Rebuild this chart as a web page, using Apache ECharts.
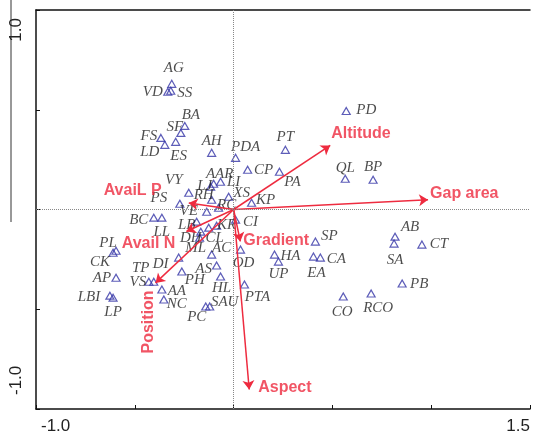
<!DOCTYPE html>
<html>
<head>
<meta charset="utf-8">
<script src="https://cdn.jsdelivr.net/npm/echarts@6/dist/echarts.min.js"></script>
<style>
  html, body { margin: 0; padding: 0; background: #fff; }
  #grafico { width: 533px; height: 437px; }
</style>
</head>
<body>
<div id="grafico"></div>
<script>
// species scores, axis 1 / axis 2
const speciesNames = ["AG", "VD", "SS", "BA", "SF", "FS", "LD", "ES", "AH", "PDA",
  "PT", "CP", "PA", "PD", "QL", "BP", "AAR", "LJ", "LI", "VY",
  "RH", "XS", "KP", "PS", "RC", "VE", "CI", "LB", "KR", "DH",
  "CL", "ML", "AC", "OD", "DI", "AS", "PH", "HL", "SAU", "PC",
  "PTA", "AA", "NC", "VS", "TP", "AP", "CK", "PL", "LBI", "LP",
  "BC", "LL", "SP", "HA", "UP", "EA", "CA", "AB", "SA", "CT",
  "PB", "CO", "RCO"];
const speciesX = [-0.313, -0.333, -0.318, -0.247, -0.267, -0.368, -0.348, -0.293, -0.111, 0.010,
  0.262, 0.071, 0.232, 0.570, 0.565, 0.706, -0.101, -0.116, -0.066, -0.227,
  -0.111, -0.025, 0.091, -0.272, -0.076, -0.136, 0.010, -0.187, -0.086, -0.166,
  -0.126, -0.172, -0.111, 0.035, -0.278, -0.086, -0.262, -0.066, -0.121, -0.141,
  0.055, -0.363, -0.353, -0.429, -0.404, -0.595, -0.610, -0.595, -0.626, -0.610,
  -0.404, -0.363, 0.414, 0.207, 0.227, 0.404, 0.439, 0.817, 0.812, 0.953,
  0.853, 0.555, 0.696];
const speciesY = [0.630, 0.590, 0.595, 0.419, 0.384, 0.359, 0.324, 0.339, 0.284, 0.259,
  0.299, 0.199, 0.189, 0.494, 0.154, 0.149, 0.129, 0.114, 0.139, 0.084,
  0.049, 0.064, 0.034, 0.029, 0.009, -0.011, -0.051, -0.061, -0.081, -0.111,
  -0.091, -0.141, -0.226, -0.201, -0.241, -0.281, -0.311, -0.336, -0.486, -0.486,
  -0.376, -0.401, -0.451, -0.362, -0.362, -0.342, -0.217, -0.207, -0.432, -0.442,
  -0.041, -0.041, -0.161, -0.226, -0.261, -0.236, -0.241, -0.136, -0.171, -0.176,
  -0.371, -0.436, -0.421];

// environmental variables (arrow tips, arrows start at the origin)
const envNames = ["Altitude", "Gap area", "AvaiL P", "Avail N", "Position", "Gradient", "Aspect"];
const envX = [0.489, 0.984, -0.227, -0.239, -0.395, 0.034, 0.079];
const envY = [0.321, 0.049, 0.032, -0.110, -0.368, -0.160, -0.902];

const xTicks = [-1.0, 1.5];
const xTickLabels = ["-1.0", "1.5"];
const yTicks = [-1.0, 1.0];
const yTickLabels = ["-1.0", "1.0"];

// where each species name sits relative to its triangle (px)
const etiquetas = {
  AG: [2, -16], VD: [-15, 0], SS: [14, 2], BA: [6, -11], SF: [-6, -6], FS: [-12, -2],
  LD: [-15, 7], ES: [3, 14], AH: [0, -12], PDA: [10, -11], PT: [0, -13], CP: [16, 0],
  PA: [13, 10], PD: [20, -1], QL: [0, -11], BP: [0, -13], AAR: [6, -10], LJ: [-6, -1],
  LI: [13, 0], VY: [-15, -13], RH: [-8, -5], XS: [13, -4], KP: [14, -3], PS: [-21, -6],
  RC: [8, -3], VE: [-18, -1], CI: [15, 2], LB: [-10, 3], KR: [10, -1], DH: [-10, 6],
  CL: [6, 10], ML: [-4, 10], AC: [10, -7], OD: [3, 13], DI: [-18, 6], AS: [-13, 4],
  PH: [13, 9], HL: [1, 12], SAU: [15, -4], PC: [-9, 11], PTA: [13, 13], AA: [15, 2],
  NC: [13, 5], VS: [-11, 0], TP: [-13, -14], AP: [-14, 0], CK: [-13, 9], PL: [-8, -8],
  LBI: [-21, 1], LP: [0, 14], BC: [-15, 2], LL: [0, 14], SP: [14, -6], HA: [16, 1],
  UP: [0, 12], EA: [3, 16], CA: [16, 1], AB: [15, -10], SA: [1, 16], CT: [17, -1],
  PB: [17, 1], CO: [-1, 16], RCO: [7, 15]
};

// offset of a rotated label is in its own (rotated) frame
const etiquetasEnv = {
  "Altitude": { align: "left", offset: [1, -12], rotate: 0 },
  "Gap area": { align: "left", offset: [2, -6], rotate: 0 },
  "AvaiL P": { align: "right", offset: [-27, -13], rotate: 0 },
  "Avail N": { align: "right", offset: [-11, 12], rotate: 0 },
  "Position": { align: "center", offset: [-39, -7], rotate: 90 },
  "Gradient": { align: "left", offset: [3, -1], rotate: 0 },
  "Aspect": { align: "left", offset: [9, -2], rotate: 0 }
};

const rojo = "#ee2b3f";

var dom = document.getElementById("grafico");
var myChart = echarts.init(dom, null, { renderer: "canvas" });

const especies = speciesNames.map((n, i) => ({
  name: n,
  value: [speciesX[i], speciesY[i]],
  label: { offset: etiquetas[n] || [0, -12] }
}));

const flechas = envNames.map((n, i) => ({ coords: [[0, 0], [envX[i], envY[i]]] }));

const puntasEnv = envNames.map((n, i) => ({
  name: n,
  value: [envX[i], envY[i]],
  label: {
    align: etiquetasEnv[n].align,
    offset: etiquetasEnv[n].offset,
    rotate: etiquetasEnv[n].rotate
  }
}));

function etiquetaX(v) {
  const i = xTicks.indexOf(v);
  return i >= 0 ? xTickLabels[i] : "";
}
function etiquetaY(v) {
  const i = yTicks.indexOf(v);
  return i >= 0 ? yTickLabels[i] : "";
}

var option = {
  animation: false,
  backgroundColor: "#fff",
  grid: { left: 36, right: 1, top: 10, bottom: 28 },
  xAxis: [
    {
      type: "value",
      min: -1.0,
      max: 1.5,
      interval: 0.5,
      axisLine: { show: true, onZero: false, lineStyle: { color: "#111", width: 1.5 } },
      axisTick: { show: true, inside: true, length: 4, lineStyle: { color: "#111" } },
      axisLabel: {
        formatter: etiquetaX,
        fontFamily: "Liberation Sans",
        fontSize: 17,
        color: "#222",
        margin: 9,
        padding: [0, 0, 0, 5],
        alignMinLabel: "left",
        alignMaxLabel: "right",
        showMinLabel: true,
        showMaxLabel: true
      },
      splitLine: { show: false }
    },
    {
      type: "value",
      position: "top",
      min: -1.0,
      max: 1.5,
      axisLine: { show: true, onZero: false, lineStyle: { color: "#111", width: 1.5 } },
      axisTick: { show: false },
      axisLabel: { show: false },
      splitLine: { show: false }
    }
  ],
  yAxis: {
    type: "value",
    min: -1.0,
    max: 1.0,
    interval: 0.5,
    axisLine: { show: true, onZero: false, lineStyle: { color: "#111", width: 1.5 } },
    axisTick: { show: true, inside: true, length: 4, lineStyle: { color: "#111" } },
    axisLabel: {
      formatter: etiquetaY,
      rotate: 90,
      fontFamily: "Liberation Sans",
      fontSize: 17,
      color: "#222",
      margin: 11,
      padding: [0, 8, 0, 14],
      alignMinLabel: "left",
      alignMaxLabel: "right",
      showMinLabel: true,
      showMaxLabel: true
    },
    splitLine: { show: false }
  },
  graphic: [
    {
      type: "line",
      shape: { x1: 11, y1: 0, x2: 11, y2: 222 },
      style: { stroke: "#333", lineWidth: 1 },
      silent: true
    }
  ],
  series: [
    {
      type: "scatter",
      data: especies,
      symbol: "triangle",
      symbolSize: [8, 7],
      itemStyle: { color: "rgba(0,0,0,0)", borderColor: "#3434a6", borderWidth: 1.2 },
      label: {
        show: true,
        position: "inside",
        formatter: "{b}",
        fontFamily: "Liberation Serif",
        fontStyle: "italic",
        fontSize: 15,
        color: "#1e1e1e"
      },
      markLine: {
        silent: true,
        symbol: "none",
        label: { show: false },
        lineStyle: { type: "dotted", color: "#888", width: 1 },
        data: [{ xAxis: 0 }, { yAxis: 0 }]
      },
      z: 3
    },
    {
      type: "lines",
      coordinateSystem: "cartesian2d",
      data: flechas,
      symbol: ["none", "arrow"],
      symbolSize: 9,
      lineStyle: { color: rojo, width: 1.5, opacity: 1 },
      z: 4
    },
    {
      type: "scatter",
      data: puntasEnv,
      symbolSize: 0,
      label: {
        show: true,
        position: "inside",
        formatter: "{b}",
        fontFamily: "Liberation Sans",
        fontWeight: "bold",
        fontSize: 16,
        color: rojo,
        verticalAlign: "middle"
      },
      z: 5
    }
  ]
};

myChart.setOption(option);
window.addEventListener("resize", myChart.resize);
</script>
</body>
</html>
